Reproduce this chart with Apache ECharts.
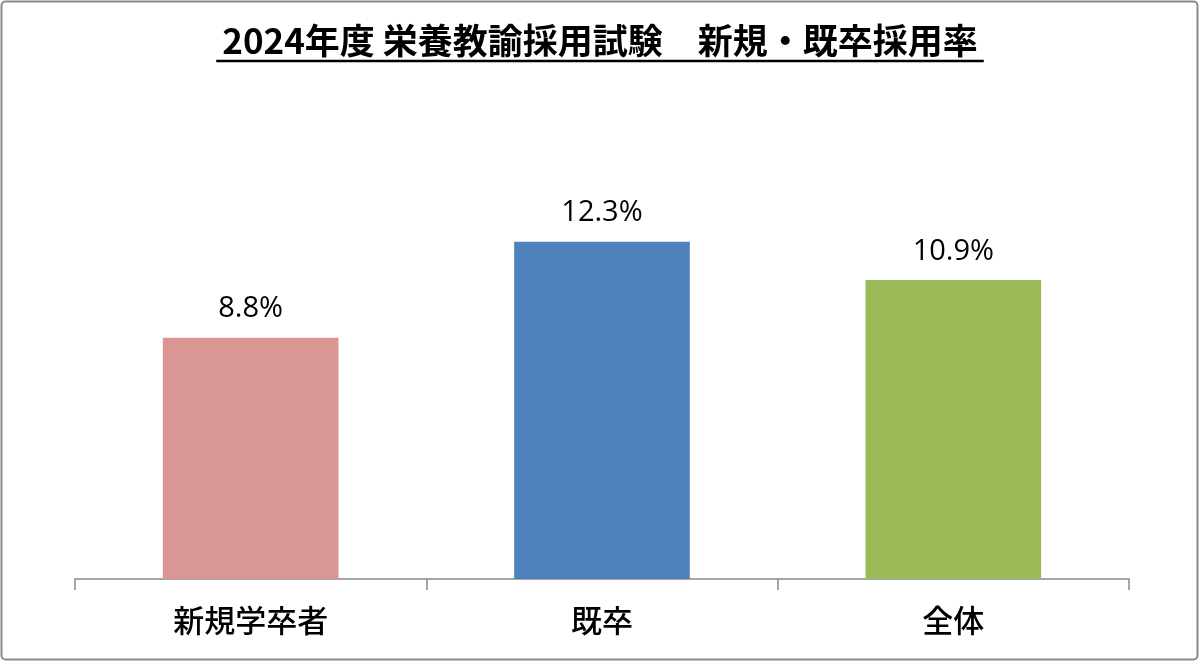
<!DOCTYPE html>
<html><head><meta charset="utf-8">
<script src="https://cdn.jsdelivr.net/npm/echarts@6/dist/echarts.min.js"></script>
<style>html,body{margin:0;padding:0;background:#fff}#c{width:1200px;height:662px}</style>
</head><body><div id="c"></div>
<script>
const titleText = '2024年度 栄養教諭採用試験　新規・既卒採用率';
const categories = ['新規学卒者', '既卒', '全体'];
const values = [8.8, 12.3, 10.9];
const colors = ['#D99694', '#4F81BD', '#9BBB59'];

const chart = echarts.init(document.getElementById('c'), null, {renderer: 'canvas'});
const titleFont = 'bold 35px "Noto Sans CJK JP"';
const cv = document.createElement('canvas').getContext('2d');
cv.font = titleFont;
const tw = cv.measureText(titleText).width;

chart.setOption({
  animation: false,
  backgroundColor: '#fff',
  graphic: [
    {type: 'rect', shape: {x: 1.5, y: 1.5, width: 1196, height: 658, r: 4}, style: {fill: 'none', stroke: '#8a8a8a', lineWidth: 2}, z: 100},
    {type: 'text', x: 600, y: 41, style: {text: titleText, font: titleFont, fill: '#000', textAlign: 'center', textVerticalAlign: 'middle'}},
    {type: 'line', shape: {x1: 600 - tw / 2 - 6, y1: 61, x2: 600 + tw / 2 + 6, y2: 61}, style: {stroke: '#000', lineWidth: 2.5}}
  ],
  grid: {left: 75, right: 71, top: 195, bottom: 83},
  xAxis: {
    type: 'category', data: categories,
    axisLine: {lineStyle: {color: '#888', width: 1.5}},
    axisTick: {show: true, length: 11, lineStyle: {color: '#888', width: 1.5}},
    axisLabel: {margin: 26, fontSize: 31, fontWeight: 500, color: '#000', fontFamily: '"Noto Sans CJK JP"'}
  },
  yAxis: {type: 'value', min: 0, max: 14, show: false, splitLine: {show: false}},
  series: [{
    type: 'bar', barWidth: '50%',
    data: values.map((v, i) => ({value: v, itemStyle: {color: colors[i]}})),
    label: {show: true, position: 'top', distance: 14, formatter: p => p.value.toFixed(1) + '%', fontSize: 29, color: '#000', fontFamily: '"Open Sans"'}
  }]
});
</script></body></html>
